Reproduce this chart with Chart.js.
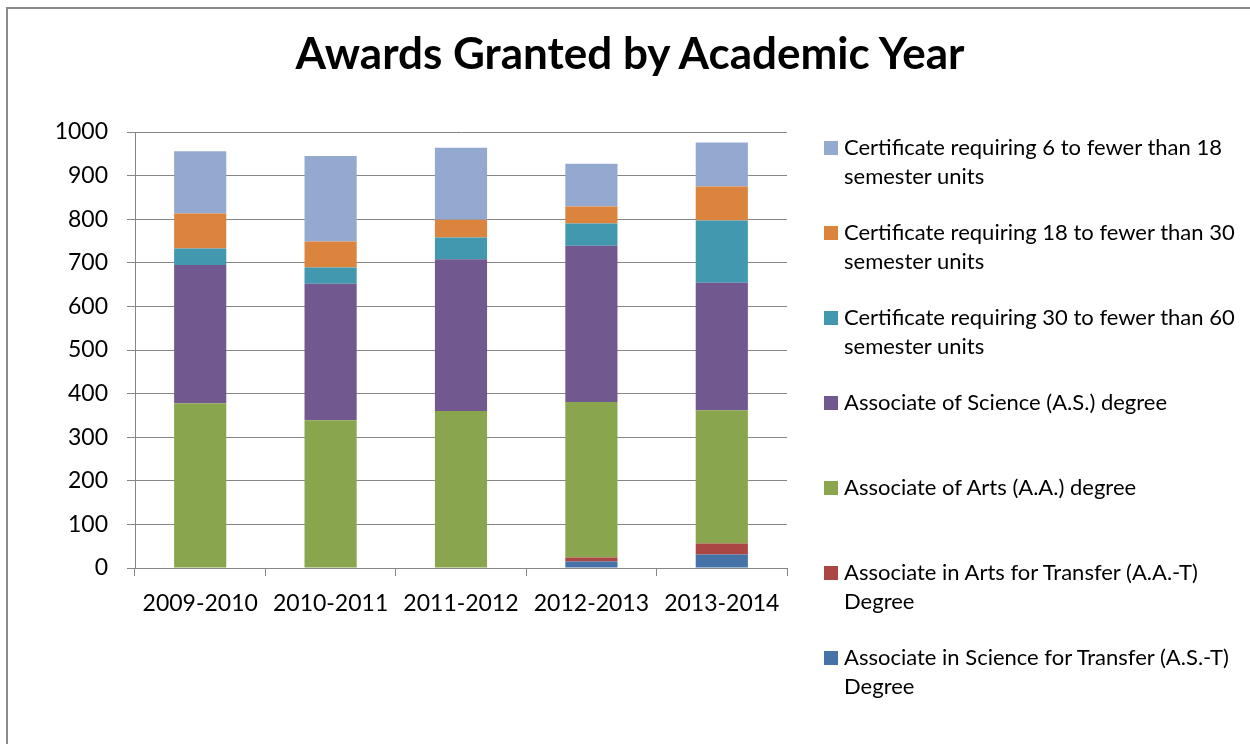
<!DOCTYPE html>
<html><head><meta charset="utf-8">
<script src="https://cdn.jsdelivr.net/npm/chart.js@4.4.0/dist/chart.umd.min.js"></script>
<style>
html,body{margin:0;padding:0;background:#fff;overflow:hidden;}
#wrap{position:relative;width:1250px;height:744px;overflow:hidden;}
#frame{position:absolute;left:6px;top:7px;width:1300px;height:800px;border:2px solid #8a8a8a;box-sizing:border-box;}
#title{position:absolute;left:0;width:1260px;top:25.6px;text-align:center;font:bold 44px Lato;line-height:52.8px;color:#000;white-space:nowrap;}
canvas{position:absolute;left:0;top:0;}
#legend{position:absolute;left:824px;top:0;font:22px Lato;color:#000;}
.item{position:absolute;left:0;white-space:pre;line-height:29px;}
.sw{position:absolute;left:0;top:9px;width:13.5px;height:13.5px;}
.tx{position:absolute;left:20px;top:0;}
</style></head>
<body>
<div id="wrap">
<div id="frame"></div>
<canvas id="c" width="1250" height="744"></canvas>
<div id="title">Awards Granted by Academic Year</div>
<div id="legend"></div>
</div>
<script>
// ---- data ----
const years = ["2009-2010", "2010-2011", "2011-2012", "2012-2013", "2013-2014"];
const asTransfer = [0, 0, 0, 15, 31];
const aaTransfer = [0, 0, 0, 9, 25];
const aaDegree   = [378, 339, 360, 357, 306];
const asDegree   = [317, 313, 348, 358, 292];
const cert30to60 = [38, 37, 50, 51, 143];
const cert18to30 = [80, 60, 41, 39, 78];
const cert6to18  = [143, 196, 165, 98, 101];
const yTicks = [0, 100, 200, 300, 400, 500, 600, 700, 800, 900, 1000];

const seriesLabels = [
  "Associate in Science for Transfer (A.S.-T)\nDegree",
  "Associate in Arts for Transfer (A.A.-T)\nDegree",
  "Associate of Arts (A.A.) degree",
  "Associate of Science (A.S.) degree",
  "Certificate requiring 30 to fewer than 60\nsemester units",
  "Certificate requiring 18 to fewer than 30\nsemester units",
  "Certificate requiring 6 to fewer than 18\nsemester units"
];
const seriesValues = [asTransfer, aaTransfer, aaDegree, asDegree, cert30to60, cert18to30, cert6to18];
const seriesColors = ["#4572A7", "#AA4643", "#89A54E", "#71588F", "#4198AF", "#DB843D", "#93A9CF"];

const datasets = seriesValues.map((v, i) => ({
  label: seriesLabels[i],
  data: v,
  backgroundColor: seriesColors[i],
  borderWidth: 0,
  barPercentage: 0.4,
  categoryPercentage: 1.0
}));

const gridColor = "#868686";

new Chart(document.getElementById("c"), {
  type: "bar",
  data: { labels: years, datasets },
  options: {
    responsive: false,
    animation: false,
    devicePixelRatio: 1,
    layout: { padding: { left: 0, right: 463, top: 132, bottom: 0 } },
    plugins: { legend: { display: false }, title: { display: false }, tooltip: { enabled: false } },
    scales: {
      x: {
        stacked: true,
        grid: { display: true, drawOnChartArea: false, drawTicks: true, tickLength: 8, color: gridColor, lineWidth: 1, offset: true },
        border: { display: true, color: gridColor, width: 1 },
        ticks: { color: "#000", font: { family: "Lato", size: 23 }, padding: 14, maxRotation: 0 },
        afterFit: (s) => { s.height = 176; }
      },
      y: {
        stacked: true,
        min: 0, max: 1000,
        afterBuildTicks: (s) => { s.ticks = yTicks.map(v => ({ value: v })); },
        grid: { color: gridColor, lineWidth: 1, drawTicks: true, tickLength: 8 },
        border: { display: true, color: gridColor, width: 1 },
        ticks: { color: "#000", font: { family: "Lato", size: 23 }, padding: 19, callback: (v) => String(v) },
        afterFit: (s) => { s.width = 135; }
      }
    }
  }
});

// HTML legend (top-down = reverse stacking order)
const legend = document.getElementById("legend");
const order = [6, 5, 4, 3, 2, 1, 0];
order.forEach((idx, k) => {
  const item = document.createElement("div");
  item.className = "item";
  item.style.top = (132 + 85 * k) + "px";
  const sw = document.createElement("div");
  sw.className = "sw";
  sw.style.background = seriesColors[idx];
  const tx = document.createElement("div");
  tx.className = "tx";
  tx.textContent = seriesLabels[idx];
  item.appendChild(sw);
  item.appendChild(tx);
  legend.appendChild(item);
});
</script>
</body></html>
